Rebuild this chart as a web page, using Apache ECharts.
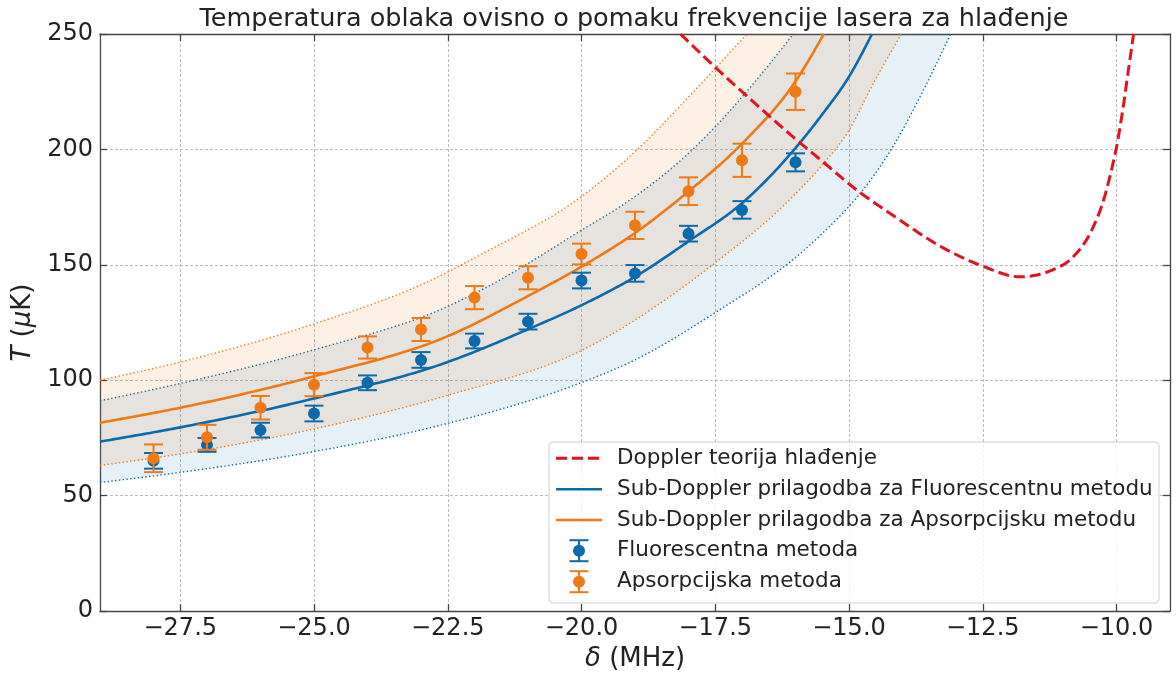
<!DOCTYPE html>
<html>
<head>
<meta charset="utf-8">
<script src="https://cdn.jsdelivr.net/npm/echarts@6/dist/echarts.min.js"></script>
<style>html,body{margin:0;padding:0;background:#fff;}#c{width:1176px;height:677px;}</style>
</head>
<body>
<div id="c"></div>
<script>
// ---------- data ----------
const xTicks = [-27.5, -25.0, -22.5, -20.0, -17.5, -15.0, -12.5, -10.0];
const yTicks = [0, 50, 100, 150, 200, 250];

const detuning = [-28, -27, -26, -25, -24, -23, -22, -21, -20, -19, -18, -17, -16];
const fluoT   = [65.1, 72.0, 78.4, 85.6, 98.9, 108.8, 117.0, 125.4, 143.2, 146.3, 163.5, 173.8, 194.4];
const fluoErr = [3.4, 3.0, 3.2, 3.4, 3.2, 3.4, 3.2, 3.4, 3.4, 3.6, 3.4, 3.8, 3.9];
const absT    = [66.2, 75.3, 88.1, 98.1, 114.2, 122.0, 135.8, 144.4, 154.7, 167.1, 181.9, 195.3, 225.0];
const absErr  = [6.0, 5.4, 5.1, 5.0, 4.8, 5.0, 5.0, 5.0, 4.5, 5.9, 6.0, 7.2, 7.9];

const fitFluoX = [-29, -27.5, -25, -22.5, -21, -20, -19, -18, -17, -16, -15.49, -15, -14.57];
const fitFluoT = [73.4, 79.6, 92.1, 107.9, 122.1, 132.5, 144.8, 160.2, 176.7, 200.6, 215.5, 231.5, 250];
const fitAbsX  = [-29, -27.5, -25, -22.5, -21, -20, -19, -18, -17, -16, -15.47];
const fitAbsT  = [81.6, 88.1, 101.7, 119.1, 136.5, 149.2, 163.8, 181.8, 202.5, 229.5, 250];

const bandFluoHiX = [-29, -27.5, -25, -22.5, -21.88, -20, -19, -18, -17.5, -17, -16.04];
const bandFluoHiT = [91.1, 98.6, 113.2, 132.0, 139.0, 165.0, 179.6, 198.3, 209.8, 222.7, 250];
const bandFluoLoX = [-29, -27.5, -25, -22.5, -20, -19.09, -17.5, -15.86, -15.49, -15, -14.55, -14.21, -13.61, -13.1];
const bandFluoLoT = [55.7, 60.1, 69.1, 81.3, 99.0, 107.8, 129.3, 155.9, 163.8, 175.3, 188.2, 200.0, 225.6, 250];
const bandAbsHiX  = [-29, -27.5, -25, -22.77, -21.88, -20, -19, -18, -16.91];
const bandAbsHiT  = [100.0, 107.9, 124.4, 143.8, 154.5, 179.6, 199.0, 222.7, 250];
const bandAbsLoX  = [-29, -27.5, -25, -22.5, -20, -17.5, -16.11, -15.49, -15, -14.55, -14.02];
const bandAbsLoT  = [63.1, 68.1, 78.9, 93.5, 112.9, 150.9, 178.2, 193.5, 208.3, 228.4, 250];

const dopX = [-18.15, -17.5, -16.54, -16.05, -15.49, -14.86, -14.24, -13.18, -12.5, -11.8, -11.175, -10.8, -10.49, -10.24, -10.08, -10.0, -9.875, -9.77, -9.68];
const dopT = [250, 235.6, 215.5, 205.5, 194.7, 182.5, 172.4, 156.6, 149.4, 144.8, 148.0, 153.7, 163.8, 178.2, 192.5, 201.0, 218.4, 235.6, 250];

// ---------- style ----------
const BLUE = '#0b6aac', ORANGE = '#ef7a15', RED = '#e3121e';
const FONT = '"DejaVu Sans", "Liberation Sans", sans-serif';
const TXT = '#222222';
const AX = '#444444';

// ---------- helpers ----------
function slope3(h0, h1, s0, s1) {
  const p = (s0 * h1 + s1 * h0) / (h0 + h1);
  return ((Math.sign(s0) + Math.sign(s1)) * Math.min(Math.abs(s0), Math.abs(s1), 0.5 * Math.abs(p))) || 0;
}
function smoothPts(p) { // monotone cubic in x, sampled into a polyline
  const n = p.length;
  if (n < 3) return p.slice();
  const h = [], m = [], t = new Array(n);
  for (let i = 0; i < n - 1; i++) { h[i] = p[i + 1][0] - p[i][0]; m[i] = (p[i + 1][1] - p[i][1]) / h[i]; }
  for (let i = 1; i < n - 1; i++) t[i] = slope3(h[i - 1], h[i], m[i - 1], m[i]);
  t[0] = (3 * m[0] - t[1]) / 2;
  t[n - 1] = (3 * m[n - 2] - t[n - 2]) / 2;
  const out = [];
  for (let i = 0; i < n - 1; i++) {
    const x0 = p[i][0], y0 = p[i][1], x1 = p[i + 1][0], y1 = p[i + 1][1], d = h[i] / 3;
    const c1x = x0 + d, c1y = y0 + t[i] * d, c2x = x1 - d, c2y = y1 - t[i + 1] * d;
    const N = 24;
    for (let k = 0; k < N; k++) {
      const s = k / N, u = 1 - s;
      out.push([
        u * u * u * x0 + 3 * u * u * s * c1x + 3 * u * s * s * c2x + s * s * s * x1,
        u * u * u * y0 + 3 * u * u * s * c1y + 3 * u * s * s * c2y + s * s * s * y1
      ]);
    }
  }
  out.push(p[n - 1]);
  return out;
}
function coords(api, xs, ts) { return xs.map((x, i) => api.coord([x, ts[i]])); }

function bandSeries(hiX, hiT, loX, loT, color, alpha, z) {
  return {
    type: 'custom', coordinateSystem: 'cartesian2d', silent: true, z: z,
    data: [[hiX[0], hiT[0]]],
    renderItem: function (params, api) {
      const hi = smoothPts(coords(api, hiX, hiT));
      const lo = smoothPts(coords(api, loX, loT));
      const poly = hi.concat(lo.slice().reverse());
      return {
        type: 'group', children: [
          { type: 'polygon', shape: { points: poly }, style: { fill: color, opacity: alpha, stroke: null } },
          { type: 'polyline', shape: { points: hi }, style: { stroke: color, lineWidth: 1.4, lineDash: [1.4, 2.4], fill: null } },
          { type: 'polyline', shape: { points: lo }, style: { stroke: color, lineWidth: 1.4, lineDash: [1.4, 2.4], fill: null } }
        ]
      };
    }
  };
}
function curveSeries(name, xs, ts, color, width, dash, z) {
  return {
    type: 'custom', name: name, coordinateSystem: 'cartesian2d', silent: true, z: z,
    data: [[xs[0], ts[0]]],
    renderItem: function (params, api) {
      return { type: 'polyline', shape: { points: smoothPts(coords(api, xs, ts)) },
        style: { stroke: color, lineWidth: width, lineDash: dash, fill: null, lineJoin: 'round' } };
    }
  };
}
function errSeries(xs, ts, es, color, z) {
  return {
    type: 'custom', coordinateSystem: 'cartesian2d', silent: true, z: z,
    data: xs.map((x, i) => [x, ts[i], es[i]]),
    encode: { x: 0, y: 1 },
    renderItem: function (params, api) {
      const x = api.value(0), y = api.value(1), e = api.value(2);
      const a = api.coord([x, y + e]), b = api.coord([x, y - e]);
      const hw = 9.5, st = { stroke: color, lineWidth: 2 };
      return { type: 'group', children: [
        { type: 'line', shape: { x1: a[0], y1: a[1], x2: b[0], y2: b[1] }, style: st },
        { type: 'line', shape: { x1: a[0] - hw, y1: a[1], x2: a[0] + hw, y2: a[1] }, style: st },
        { type: 'line', shape: { x1: b[0] - hw, y1: b[1], x2: b[0] + hw, y2: b[1] }, style: st }
      ] };
    }
  };
}

// ---------- legend (graphic) ----------
const LX = 549, LY = 442, LW = 610, LH = 161;
const rows = [458.3, 489.3, 520.0, 550.7, 581.7];
const legendLabels = [
  'Doppler teorija hlađenje',
  'Sub-Doppler prilagodba za Fluorescentnu metodu',
  'Sub-Doppler prilagodba za Apsorpcijsku metodu',
  'Fluorescentna metoda',
  'Apsorpcijska metoda'
];
const g = [];
g.push({ type: 'rect', z: 100, shape: { x: LX, y: LY, width: LW, height: LH, r: 4 },
  style: { fill: 'rgba(255,255,255,0.8)', stroke: '#d0d0d0', lineWidth: 1 } });
g.push({ type: 'line', z: 101, shape: { x1: 556, y1: rows[0], x2: 602, y2: rows[0] }, style: { stroke: RED, lineWidth: 3, lineDash: [11, 5] } });
g.push({ type: 'line', z: 101, shape: { x1: 556, y1: rows[1], x2: 602, y2: rows[1] }, style: { stroke: BLUE, lineWidth: 2.5 } });
g.push({ type: 'line', z: 101, shape: { x1: 556, y1: rows[2], x2: 602, y2: rows[2] }, style: { stroke: ORANGE, lineWidth: 2.5 } });
[[rows[3], BLUE], [rows[4], ORANGE]].forEach(function (r) {
  const cx = 579, cy = r[0], c = r[1];
  g.push({ type: 'line', z: 101, shape: { x1: cx, y1: cy - 10.5, x2: cx, y2: cy + 10.5 }, style: { stroke: c, lineWidth: 2 } });
  g.push({ type: 'line', z: 101, shape: { x1: cx - 9.5, y1: cy - 10.5, x2: cx + 9.5, y2: cy - 10.5 }, style: { stroke: c, lineWidth: 2 } });
  g.push({ type: 'line', z: 101, shape: { x1: cx - 9.5, y1: cy + 10.5, x2: cx + 9.5, y2: cy + 10.5 }, style: { stroke: c, lineWidth: 2 } });
  g.push({ type: 'circle', z: 102, shape: { cx: cx, cy: cy, r: 6 }, style: { fill: c } });
});
legendLabels.forEach(function (t, i) {
  g.push({ type: 'text', z: 103, x: 617, y: rows[i],
    style: { text: t, fill: TXT, font: '21.5px ' + FONT, align: 'left', verticalAlign: 'middle' } });
});

// ---------- chart ----------
const chart = echarts.init(document.getElementById('c'), null, { renderer: 'canvas' });
const axisLine = { show: true, onZero: false, lineStyle: { color: AX, width: 1.3 } };
const tickIn = (vals) => ({ show: true, inside: true, length: 7, lineStyle: { color: AX, width: 1.3 }, customValues: vals });

chart.setOption({
  animation: false,
  backgroundColor: '#ffffff',
  title: {
    text: 'Temperatura oblaka ovisno o pomaku frekvencije lasera za hlađenje',
    left: 634, top: 6, textAlign: 'center', padding: 0,
    textStyle: { fontFamily: FONT, fontSize: 25.5, fontWeight: 'normal', color: TXT }
  },
  grid: { left: 100, right: 6, top: 34, bottom: 64 },
  xAxis: [{
    type: 'value', min: -29, max: -9, position: 'bottom',
    axisLine: axisLine, axisTick: tickIn(xTicks),
    axisLabel: { customValues: xTicks, margin: 6, fontFamily: FONT, fontSize: 24, color: TXT,
      formatter: v => (v < 0 ? '\u2212' : '') + Math.abs(v).toFixed(1) },
    splitLine: { show: true, lineStyle: { color: '#b4b4b4', width: 0.9, type: [3, 2] } },
    name: '{i|δ} (MHz)', nameLocation: 'middle', nameGap: 32,
    nameTextStyle: { fontFamily: FONT, fontSize: 26, color: TXT,
      rich: { i: { fontFamily: FONT, fontSize: 26, fontStyle: 'italic', color: TXT } } }
  }, {
    type: 'value', min: -29, max: -9, position: 'top',
    axisLine: axisLine, axisTick: tickIn(xTicks), axisLabel: { show: false }, splitLine: { show: false }
  }],
  yAxis: [{
    type: 'value', min: 0, max: 250, interval: 50, position: 'left',
    axisLine: axisLine, axisTick: tickIn(yTicks),
    axisLabel: { customValues: yTicks, margin: 7, fontFamily: FONT, fontSize: 24, color: TXT },
    splitLine: { show: true, lineStyle: { color: '#b4b4b4', width: 0.9, type: [3, 2] } },
    name: '{i|T} ({i|μ}K)', nameLocation: 'middle', nameGap: 64, nameRotate: 90,
    nameTextStyle: { fontFamily: FONT, fontSize: 26, color: TXT,
      rich: { i: { fontFamily: FONT, fontSize: 26, fontStyle: 'italic', color: TXT } } }
  }, {
    type: 'value', min: 0, max: 250, interval: 50, position: 'right',
    axisLine: axisLine, axisTick: tickIn(yTicks), axisLabel: { show: false }, splitLine: { show: false }
  }],
  graphic: { elements: g },
  series: [
    bandSeries(bandFluoHiX, bandFluoHiT, bandFluoLoX, bandFluoLoT, BLUE, 0.1, 1),
    bandSeries(bandAbsHiX, bandAbsHiT, bandAbsLoX, bandAbsLoT, ORANGE, 0.11, 1),
    curveSeries('Sub-Doppler prilagodba za Fluorescentnu metodu', fitFluoX, fitFluoT, BLUE, 2.6, null, 2),
    curveSeries('Sub-Doppler prilagodba za Apsorpcijsku metodu', fitAbsX, fitAbsT, ORANGE, 2.6, null, 2),
    curveSeries('Doppler teorija hlađenje', dopX, dopT, RED, 3, [11, 5], 3),
    errSeries(detuning, fluoT, fluoErr, BLUE, 4),
    { type: 'scatter', name: 'Fluorescentna metoda', z: 5, symbol: 'circle', symbolSize: 12,
      itemStyle: { color: BLUE, opacity: 1 }, data: detuning.map((x, i) => [x, fluoT[i]]) },
    errSeries(detuning, absT, absErr, ORANGE, 6),
    { type: 'scatter', name: 'Apsorpcijska metoda', z: 7, symbol: 'circle', symbolSize: 12,
      itemStyle: { color: ORANGE, opacity: 1 }, data: detuning.map((x, i) => [x, absT[i]]) }
  ]
});
</script>
</body>
</html>
